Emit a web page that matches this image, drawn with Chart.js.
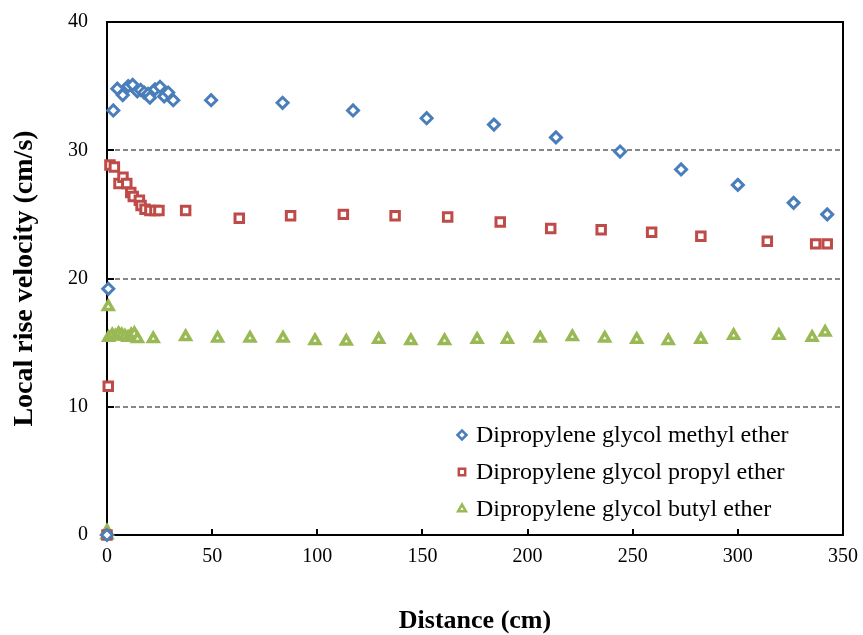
<!DOCTYPE html>
<html>
<head>
<meta charset="utf-8">
<script src="https://cdn.jsdelivr.net/npm/chart.js@4/dist/chart.umd.min.js"></script>
<style>
  html, body { margin: 0; padding: 0; background: #fff; }
  #wrap { width: 863px; height: 635px; }
</style>
</head>
<body>
<div id="wrap"><canvas id="chart"></canvas></div>
<script>
// Rise velocity of the three glycol ethers along the column
const methylDistance = [0, 0.6, 3.0, 4.9, 7.5, 10.1, 12.2, 14.4, 16.0, 17.7, 19.6, 20.4, 22.8, 25.2, 27.2, 29.1, 31.5, 49.5, 83.5, 117, 152, 184, 213.5, 244, 273, 300, 326.5, 342.5];
const methylVelocity = [0, 19.2, 33.1, 34.8, 34.3, 35.0, 35.1, 34.6, 34.7, 34.5, 34.4, 34.1, 34.75, 34.95, 34.2, 34.5, 33.9, 33.9, 33.7, 33.1, 32.5, 32.0, 31.0, 29.9, 28.5, 27.3, 25.9, 25.0];

const propylDistance = [0, 0.6, 1.4, 3.5, 5.7, 7.6, 9.4, 11.3, 12.5, 15.4, 16.2, 18.1, 20.4, 22.8, 24.7, 37.4, 62.9, 87.3, 112.4, 137, 162, 187, 211, 235, 259, 282.4, 314, 337, 342.5];
const propylVelocity = [0, 11.6, 28.85, 28.7, 27.4, 27.9, 27.4, 26.7, 26.4, 26.1, 25.7, 25.4, 25.3, 25.3, 25.3, 25.3, 24.7, 24.9, 25.0, 24.9, 24.8, 24.4, 23.9, 23.8, 23.6, 23.3, 22.9, 22.7, 22.7];

const butylDistance = [0, 0, 0.6, 0.8, 2.5, 4, 5.5, 7, 8.5, 10, 11.5, 13, 14.5, 22, 37.4, 52.6, 68, 83.7, 98.9, 113.8, 129.2, 144.5, 160.5, 176, 190.4, 206, 221.3, 236.7, 251.9, 266.9, 282.4, 298, 319.5, 335.3, 341.5];
const butylVelocity = [0, 0.3, 17.8, 15.4, 15.6, 15.5, 15.7, 15.6, 15.5, 15.4, 15.6, 15.7, 15.3, 15.3, 15.45, 15.35, 15.35, 15.35, 15.15, 15.1, 15.25, 15.15, 15.15, 15.25, 15.25, 15.35, 15.45, 15.35, 15.25, 15.15, 15.25, 15.55, 15.55, 15.4, 15.8];

const seriesLabels = ['Dipropylene glycol methyl ether', 'Dipropylene glycol propyl ether', 'Dipropylene glycol butyl ether'];
const xTicks = [0, 50, 100, 150, 200, 250, 300, 350];
const yTicks = [0, 10, 20, 30, 40];

const SERIF = '"Times New Roman", "Liberation Serif", serif';

function toPoints(xs, ys) {
    return xs.map((x, i) => ({x: x, y: ys[i]}));
}

// frame round the plot area plus inward tick marks
const frame = {
    id: 'frame',
    beforeDatasetsDraw(chart) {
        const {ctx, chartArea: a, scales: {x, y}} = chart;
        ctx.save();
        ctx.strokeStyle = '#000';
        ctx.lineWidth = 2;
        ctx.strokeRect(a.left, a.top, a.right - a.left, a.bottom - a.top);
        ctx.beginPath();
        xTicks.forEach(v => {
            const px = Math.round(x.getPixelForValue(v));
            ctx.moveTo(px, a.bottom);
            ctx.lineTo(px, a.bottom - 6);
        });
        yTicks.forEach(v => {
            const py = Math.round(y.getPixelForValue(v));
            ctx.moveTo(a.left, py);
            ctx.lineTo(a.left + 7, py);
        });
        ctx.stroke();
        ctx.restore();
    }
};

// legend sits inside the plot, lower right
const innerLegend = {
    id: 'innerLegend',
    afterDraw(chart) {
        const ctx = chart.ctx;
        const rows = [435, 472, 509];
        ctx.save();
        chart.data.datasets.forEach((ds, i) => {
            ctx.strokeStyle = ds.pointBorderColor;
            ctx.fillStyle = '#fff';
            ctx.lineWidth = 2.5;
            Chart.helpers.drawPoint(ctx, {pointStyle: ds.pointStyle, radius: 4.5, borderWidth: 2.5}, 462, rows[i]);
            ctx.fillStyle = '#000';
            ctx.font = '24px ' + SERIF;
            ctx.textBaseline = 'middle';
            ctx.textAlign = 'left';
            ctx.fillText(ds.label, 476, rows[i] + 1);
        });
        ctx.restore();
    }
};

new Chart(document.getElementById('chart'), {
    type: 'scatter',
    data: {
        datasets: [{
            label: seriesLabels[0],
            data: toPoints(methylDistance, methylVelocity),
            pointStyle: 'rectRot',
            pointRadius: 5.5,
            pointBorderColor: '#4a7ebb',
            pointBackgroundColor: '#fff',
            pointBorderWidth: 3,
            clip: false
        }, {
            label: seriesLabels[1],
            data: toPoints(propylDistance, propylVelocity),
            pointStyle: 'rect',
            pointRadius: 6,
            pointBorderColor: '#be4b48',
            pointBackgroundColor: '#fff',
            pointBorderWidth: 3,
            clip: false
        }, {
            label: seriesLabels[2],
            data: toPoints(butylDistance, butylVelocity),
            pointStyle: 'triangle',
            pointRadius: 5.5,
            pointBorderColor: '#98b954',
            pointBackgroundColor: '#fff',
            pointBorderWidth: 3.5,
            clip: false
        }]
    },
    options: {
        responsive: true,
        maintainAspectRatio: false,
        animation: false,
        events: [],
        layout: {padding: {top: 22, right: 20, left: 0, bottom: 0}},
        plugins: {
            legend: {display: false},
            tooltip: {enabled: false}
        },
        scales: {
            x: {
                type: 'linear',
                min: 0,
                max: 350,
                afterBuildTicks: s => { s.ticks = xTicks.map(v => ({value: v})); },
                afterFit: s => { s.height = 100; s.paddingLeft = 0; s.paddingRight = 0; },
                ticks: {color: '#000', padding: 2, font: {family: SERIF, size: 20}},
                grid: {display: false},
                border: {display: false},
                title: {
                    display: true,
                    text: 'Distance (cm)',
                    color: '#000',
                    font: {family: SERIF, size: 26, weight: 'bold', lineHeight: 1},
                    padding: {top: 0, bottom: 1}
                }
            },
            y: {
                min: 0,
                max: 40,
                afterBuildTicks: s => { s.ticks = yTicks.map(v => ({value: v})); },
                afterFit: s => { s.width = 107; s.paddingTop = 0; s.paddingBottom = 0; },
                ticks: {color: '#000', padding: 19, font: {family: SERIF, size: 20}},
                grid: {
                    drawTicks: false,
                    lineWidth: 2,
                    color: c => (c.tick && (c.tick.value === 0 || c.tick.value === 40)) ? 'rgba(0,0,0,0)' : '#868686'
                },
                border: {display: false, dash: [5, 3]},
                title: {
                    display: true,
                    text: 'Local rise velocity (cm/s)',
                    color: '#000',
                    font: {family: SERIF, size: 28, weight: 'bold', lineHeight: 1},
                    padding: {top: 11, bottom: 0}
                }
            }
        }
    },
    plugins: [frame, innerLegend]
});
</script>
</body>
</html>
